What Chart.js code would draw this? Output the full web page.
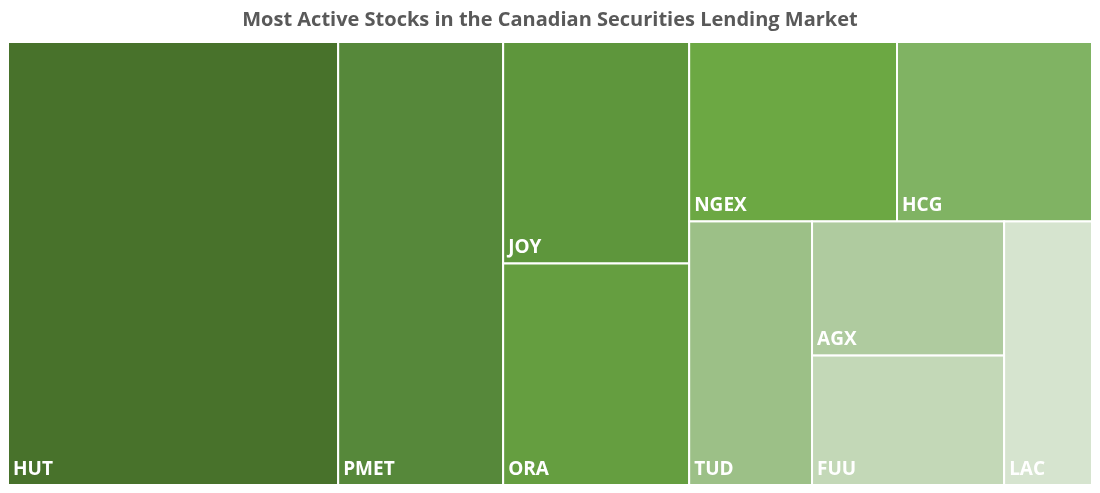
<!DOCTYPE html>
<html><head><meta charset="utf-8">
<script src="https://cdn.jsdelivr.net/npm/chart.js@4"></script>
<style>html,body{margin:0;padding:0;background:#fff}#w{width:1100px;height:493px}</style>
</head><body><div id="w"><canvas id="c"></canvas></div>
<script>
const categories = ["HUT","PMET","JOY","ORA","NGEX","HCG","TUD","AGX","FUU","LAC"];
const values = [145.9,72.9,41.1,41.1,37.2,34.9,32.3,25.7,24.8,23.1];
const colors = ["#48722b","#56883a","#5e963c","#659e40","#6ca843","#80b363","#9cc087","#afcb9f","#c3d8b7","#d6e4cf"];
// grouping structure (h = side by side, v = stacked)
const layoutTree = {d:'h',c:[0,1,{d:'v',c:[2,3]},{d:'v',c:[{d:'h',c:[4,5]},{d:'h',c:[6,{d:'v',c:[7,8]},9]}]}]};

function sum(n){return typeof n==='number'?values[n]:n.c.reduce((a,b)=>a+sum(b),0);}
function lay(n,x0,y0,x1,y1,out){
  if(typeof n==='number'){out.push({i:n,x0,y0,x1,y1});return;}
  const t=sum(n);let p=n.d==='h'?x0:y0;
  n.c.forEach(ch=>{const f=sum(ch)/t;
    if(n.d==='h'){const q=p+(x1-x0)*f;lay(ch,p,y0,q,y1,out);p=q;}
    else{const q=p+(y1-y0)*f;lay(ch,x0,p,x1,q,out);p=q;}});
}
const treemap={id:'tm',afterDatasetsDraw(chart){
  const ctx=chart.ctx,xs=chart.scales.x,ys=chart.scales.y;const out=[];
  lay(layoutTree,0,100,100,0,out);
  ctx.save();
  out.forEach(r=>{
    const px0=xs.getPixelForValue(r.x0),px1=xs.getPixelForValue(r.x1);
    const py0=ys.getPixelForValue(r.y0),py1=ys.getPixelForValue(r.y1);
    ctx.fillStyle=colors[r.i];ctx.fillRect(px0,py0,px1-px0,py1-py0);
    ctx.strokeStyle='#fff';ctx.lineWidth=2;ctx.strokeRect(px0,py0,px1-px0,py1-py0);
    ctx.fillStyle='#fff';ctx.font='bold 19px "Open Sans"';ctx.textBaseline='bottom';
    ctx.fillText(categories[r.i],px0+5,py1-6);
  });
  ctx.restore();
}};
new Chart(document.getElementById('c'),{
  type:'scatter',
  data:{datasets:[{data:[],label:'values'}]},
  options:{responsive:true,maintainAspectRatio:false,animation:false,
    layout:{padding:{left:8,right:8,bottom:8,top:2}},
    plugins:{legend:{display:false},tooltip:{enabled:false},
      title:{display:true,text:'Most Active Stocks in the Canadian Securities Lending Market',
        color:'#595959',font:{family:'Open Sans',size:20,weight:'bold'},padding:{top:6,bottom:10}}},
    scales:{x:{type:'linear',min:0,max:100,display:false},y:{type:'linear',min:0,max:100,display:false}}},
  plugins:[treemap]
});
</script></body></html>
